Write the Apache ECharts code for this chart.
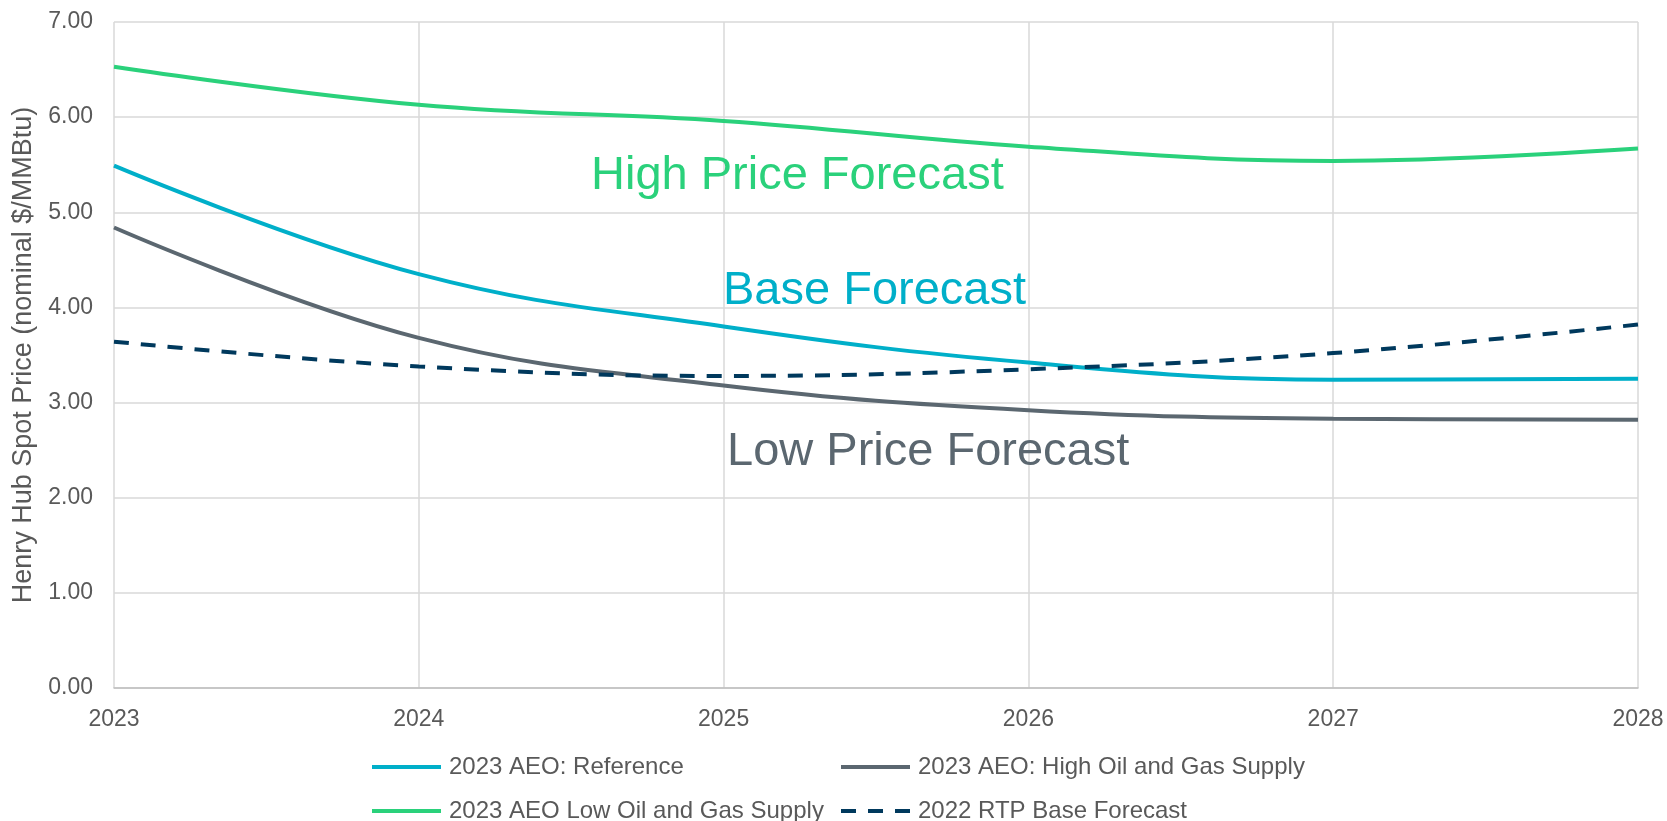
<!DOCTYPE html>
<html>
<head>
<meta charset="utf-8">
<title>Henry Hub Spot Price Forecasts</title>
<script src="https://cdn.jsdelivr.net/npm/echarts@6/dist/echarts.min.js"></script>
<style>
  html, body { margin: 0; padding: 0; background: #fff; }
  #chart { width: 1667px; height: 821px; }
</style>
</head>
<body>
<div id="chart"></div>
<script>
var years = ['2023', '2024', '2025', '2026', '2027', '2028'];
var aeoReference = [5.49, 4.35, 3.80, 3.42, 3.24, 3.25];
var aeoHighSupply = [4.84, 3.68, 3.18, 2.92, 2.83, 2.82];
var aeoLowSupply = [6.53, 6.13, 5.96, 5.69, 5.54, 5.67];
var rtpBase2022 = [3.64, 3.38, 3.28, 3.35, 3.52, 3.82];

var FONT = '"Liberation Sans", Arial, sans-serif';
var TEXT = '#595959';

var chart = echarts.init(document.getElementById('chart'));

function lineSeries(name, data, color, dashed) {
    return {
        name: name,
        type: 'line',
        data: data,
        smooth: 0.4,
        symbol: 'none',
        lineStyle: { color: color, width: 4, type: dashed ? [15, 12] : 'solid' },
        itemStyle: { color: color }
    };
}

// two vertical legends so the columns line up like the original
function legendColumn(left, names) {
    return {
        orient: 'vertical',
        left: left, bottom: -2,
        padding: 0,
        itemWidth: 69, itemHeight: 24, itemGap: 20,
        itemStyle: { opacity: 0 },
        lineStyle: { width: 4 },
        textStyle: { color: TEXT, fontSize: 24, fontFamily: FONT, padding: [0, 0, 0, 3] },
        data: names
    };
}

chart.setOption({
    animation: false,
    grid: { left: 114, top: 22, right: 29, bottom: 133, outerBoundsMode: 'none' },
    xAxis: {
        type: 'category',
        data: years,
        boundaryGap: false,
        axisLine: { lineStyle: { color: '#bfbfbf', width: 1.5 } },
        axisTick: { show: false },
        axisLabel: { color: TEXT, fontSize: 23, fontFamily: FONT, margin: 20 },
        splitLine: { show: true, lineStyle: { color: '#d9d9d9', width: 1.5 } }
    },
    yAxis: {
        type: 'value',
        min: 0,
        max: 7,
        interval: 1,
        name: 'Henry Hub Spot Price (nominal $/MMBtu)',
        nameLocation: 'middle',
        nameGap: 77,
        nameTextStyle: { color: TEXT, fontSize: 27, fontFamily: FONT },
        axisLine: { show: false },
        axisTick: { show: false },
        axisLabel: {
            color: TEXT, fontSize: 23, fontFamily: FONT, margin: 21,
            formatter: function (v) { return v.toFixed(2); }
        },
        splitLine: { lineStyle: { color: '#d9d9d9', width: 1.5 } }
    },
    legend: [
        legendColumn(370, ['2023 AEO: Reference', '2023 AEO Low Oil and Gas Supply']),
        legendColumn(839, ['2023 AEO: High Oil and Gas Supply', '2022 RTP Base Forecast'])
    ],
    graphic: [
        { type: 'text', z: 100, x: 591, y: 176, style: { text: 'High Price Forecast', fill: '#2ad17b', fontSize: 47, fontFamily: FONT, verticalAlign: 'middle' } },
        { type: 'text', z: 100, x: 723, y: 291, style: { text: 'Base Forecast', fill: '#00afc9', fontSize: 47, fontFamily: FONT, verticalAlign: 'middle' } },
        { type: 'text', z: 100, x: 727, y: 452, style: { text: 'Low Price Forecast', fill: '#5b6770', fontSize: 47, fontFamily: FONT, verticalAlign: 'middle' } }
    ],
    series: [
        lineSeries('2023 AEO: Reference', aeoReference, '#00afc9', false),
        lineSeries('2023 AEO: High Oil and Gas Supply', aeoHighSupply, '#5b6770', false),
        lineSeries('2023 AEO Low Oil and Gas Supply', aeoLowSupply, '#2ad17b', false),
        lineSeries('2022 RTP Base Forecast', rtpBase2022, '#00395d', true)
    ]
});

window.addEventListener('resize', function () {
    chart.resize();
});
</script>
</body>
</html>
